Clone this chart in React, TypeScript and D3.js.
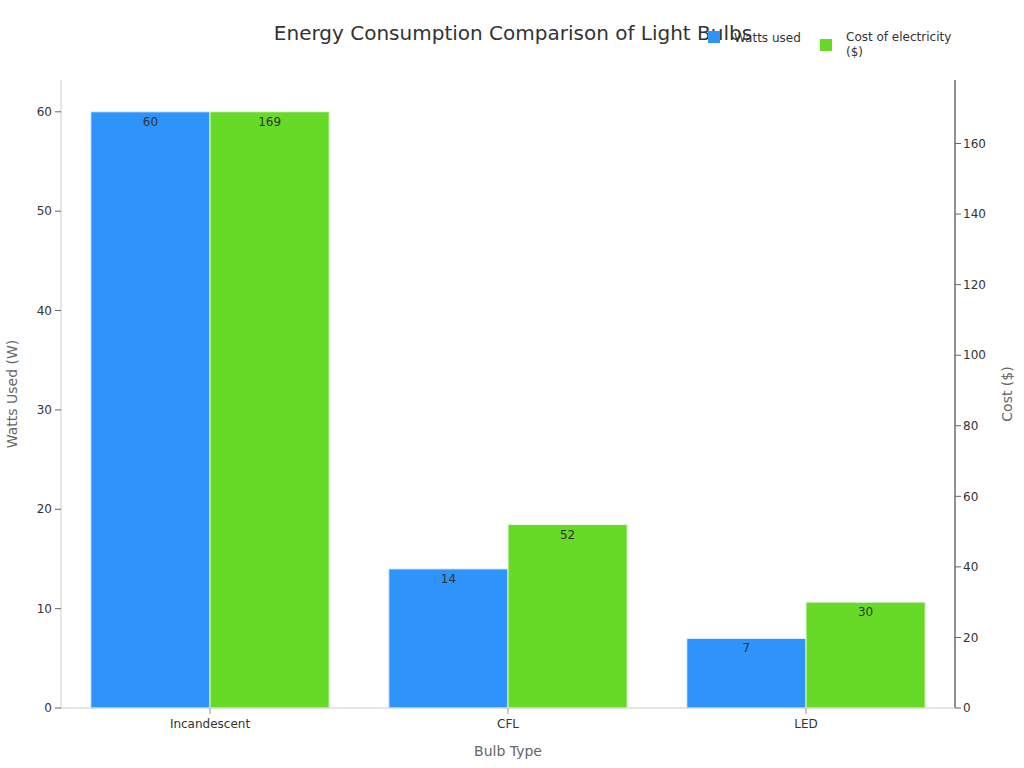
import React from "react";
import * as d3 from "d3";

const categories = ["Incandescent", "CFL", "LED"];
const wattsUsed = [60, 14, 7];
const costOfElectricity = [169, 52, 30];
const leftTicks = [0, 10, 20, 30, 40, 50, 60];
const rightTicks = [0, 20, 40, 60, 80, 100, 120, 140, 160];

const W = 1024;
const H = 768;
const margin = { top: 80, right: 69, bottom: 60, left: 61 };
const FONT = "'DejaVu Sans', Verdana, sans-serif";
const BLUE = "#2E93FA";
const GREEN = "#66DA26";

export default function App() {
  const x0 = margin.left;
  const x1 = W - margin.right;
  const y0 = H - margin.bottom;
  const y1 = margin.top;

  const x = d3.scaleBand<string>().domain(categories).range([x0, x1]).paddingInner(0.2).paddingOuter(0.1);
  const xs = d3.scaleBand<string>().domain(["w", "c"]).range([0, x.bandwidth()]);
  const yL = d3.scaleLinear().domain([0, 63.2]).range([y0, y1]);
  const yR = d3.scaleLinear().domain([0, 178]).range([y0, y1]);

  return (
    <svg width={W} height={H} style={{ position: "absolute", left: 0, top: 0, fontFamily: FONT }}>
      <rect x={0} y={0} width={W} height={H} fill="#fff" />
      <text x={513} y={40} textAnchor="middle" fontSize={20} fill="#333">
        Energy Consumption Comparison of Light Bulbs
      </text>

      {/* bars */}
      {categories.map((c, i) => {
        const bx = x(c)!;
        const wv = wattsUsed[i];
        const cv = costOfElectricity[i];
        const bw = xs.bandwidth();
        return (
          <g key={c}>
            <rect x={bx + xs("w")!} y={yL(wv)} width={bw} height={y0 - yL(wv)} fill={BLUE} stroke="#e6f0fa" strokeWidth={1} />
            <rect x={bx + xs("c")!} y={yR(cv)} width={bw} height={y0 - yR(cv)} fill={GREEN} stroke="#e8f7de" strokeWidth={1} />
            <text x={bx + xs("w")! + bw / 2} y={yL(wv) + 14} textAnchor="middle" fontSize={12} fill="#333">
              {wv}
            </text>
            <text x={bx + xs("c")! + bw / 2} y={yR(cv) + 14} textAnchor="middle" fontSize={12} fill="#333">
              {cv}
            </text>
          </g>
        );
      })}

      {/* left axis */}
      <line x1={x0} x2={x0} y1={y1} y2={y0} stroke="#ccc" />
      {leftTicks.map((t) => (
        <g key={"l" + t}>
          <line x1={x0 - 6} x2={x0} y1={yL(t)} y2={yL(t)} stroke="#666" />
          <text x={x0 - 9} y={yL(t)} dy="0.35em" textAnchor="end" fontSize={12} fill="#333">
            {t}
          </text>
        </g>
      ))}
      <text transform={`translate(17,${(y0 + y1) / 2}) rotate(-90)`} textAnchor="middle" fontSize={14} fill="#666">
        Watts Used (W)
      </text>

      {/* right axis */}
      <line x1={x1} x2={x1} y1={y1} y2={y0} stroke="#222" />
      {rightTicks.map((t) => (
        <g key={"r" + t}>
          <line x1={x1} x2={x1 + 6} y1={yR(t)} y2={yR(t)} stroke="#666" />
          <text x={x1 + 8} y={yR(t)} dy="0.35em" textAnchor="start" fontSize={12} fill="#333">
            {t}
          </text>
        </g>
      ))}
      <text transform={`translate(1012,${(y0 + y1) / 2}) rotate(-90)`} textAnchor="middle" fontSize={14} fill="#666">
        Cost ($)
      </text>

      {/* bottom axis */}
      <line x1={x0} x2={x1} y1={y0} y2={y0} stroke="#ccc" />
      {categories.map((c) => {
        const cx = x(c)! + x.bandwidth() / 2;
        return (
          <g key={"b" + c}>
            <line x1={cx} x2={cx} y1={y0} y2={y0 + 6} stroke="#999" />
            <text x={cx} y={y0 + 20} textAnchor="middle" fontSize={12} fill="#333">
              {c}
            </text>
          </g>
        );
      })}
      <text x={508} y={756} textAnchor="middle" fontSize={14} fill="#666">
        Bulb Type
      </text>

      {/* legend */}
      <rect x={708} y={31} width={12} height={12} fill={BLUE} />
      <text x={734} y={38} dy="0.35em" fontSize={12} fill="#333">Watts used</text>
      <rect x={820} y={39} width={12} height={12} fill={GREEN} />
      <text x={846} y={37} dy="0.35em" fontSize={12} fill="#333">Cost of electricity</text>
      <text x={846} y={52} dy="0.35em" fontSize={12} fill="#333">($)</text>
    </svg>
  );
}
